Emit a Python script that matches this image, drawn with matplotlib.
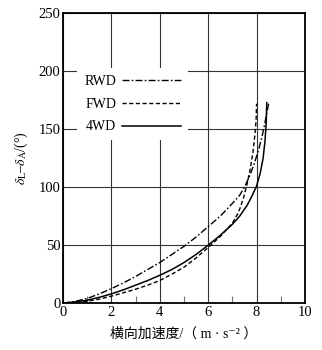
import matplotlib
matplotlib.use("Agg")
import matplotlib.pyplot as plt

# steering angle difference vs lateral acceleration for three drive layouts
rwd_x = [0, 0.5, 1, 1.5, 2, 2.5, 3, 3.5, 4, 4.5, 5, 5.5, 6, 6.5, 7, 7.3,
         7.5, 7.7, 7.9, 8.08, 8.24, 8.36, 8.45, 8.5]
rwd_y = [0, 1.5, 4, 8, 12.5, 17.5, 23, 29, 35, 42, 49, 57, 66, 75, 86, 93,
         100, 109, 120, 132, 145, 157, 167, 172]

fwd_x = [0, 0.5, 1, 1.5, 2, 2.5, 3, 3.5, 4, 4.5, 5, 5.5, 6, 6.5, 7, 7.25,
         7.45, 7.6, 7.74, 7.85, 7.93, 7.98, 8.0]
fwd_y = [0, 0.5, 1.5, 3.5, 6, 9, 12, 15.5, 19.5, 25, 31, 39, 48, 57.5, 69, 78,
         90, 102, 116, 130, 145, 158, 172]

awd_x = [0, 0.5, 1, 1.5, 2, 2.5, 3, 3.5, 4, 4.5, 5, 5.5, 6, 6.5, 7, 7.3,
         7.6, 7.8, 8.0, 8.15, 8.27, 8.35, 8.4, 8.42]
awd_y = [0, 1, 2.5, 5, 8, 11.5, 15.5, 19.5, 24, 29, 35, 42, 50, 58.5, 68, 75,
         84, 92, 101, 112, 125, 140, 156, 173]

xticks = [0, 2, 4, 6, 8, 10]
yticks = [0, 50, 100, 150, 200, 250]

plt.rcParams['font.family'] = ['Liberation Serif', 'Noto Sans CJK SC', 'DejaVu Serif']
plt.rcParams['mathtext.fontset'] = 'stix'

fig = plt.figure(figsize=(3.22, 3.50), dpi=100)
ax = fig.add_axes([0.196, 0.134, 0.751, 0.828])

ax.plot(rwd_x, rwd_y, color='black', lw=1.0, dashes=[5, 1.6, 1.2, 1.6], label='RWD')
ax.plot(fwd_x, fwd_y, color='black', lw=1.0, dashes=[3, 1.8], label='FWD')
ax.plot(awd_x, awd_y, color='black', lw=1.1, label='4WD')

ax.set_xlim(0, 10)
ax.set_ylim(0, 250)
ax.set_xticks(xticks)
ax.set_yticks(yticks)
ax.set_xticks([1, 3, 5, 7, 9], minor=True)
ax.grid(True, which='major', color='#333333', lw=0.8)
ax.tick_params(which='major', length=0, labelsize=10.5, pad=2)
ax.tick_params(axis='x', which='minor', direction='in', length=5, width=0.8, color='#777777')
for s in ax.spines.values():
    s.set_linewidth(1.3)

ax.set_xlabel('横向加速度/（ m · s⁻² ）', fontsize=10, labelpad=6)
ax.set_ylabel(r'$\delta_{\mathrm{L}}$–$\delta_{\mathrm{A}}$/(°)', fontsize=10, labelpad=6)

leg = ax.legend(loc='upper left', bbox_to_anchor=(0.03, 0.835), markerfirst=False,
                handlelength=4.3, handletextpad=0.4, labelspacing=0.7,
                fontsize=10, frameon=True, fancybox=False, borderpad=0.5)
leg.get_frame().set_facecolor('white')
leg.get_frame().set_edgecolor('none')
leg.get_frame().set_alpha(1)

fig.savefig('out.png', dpi=100)
